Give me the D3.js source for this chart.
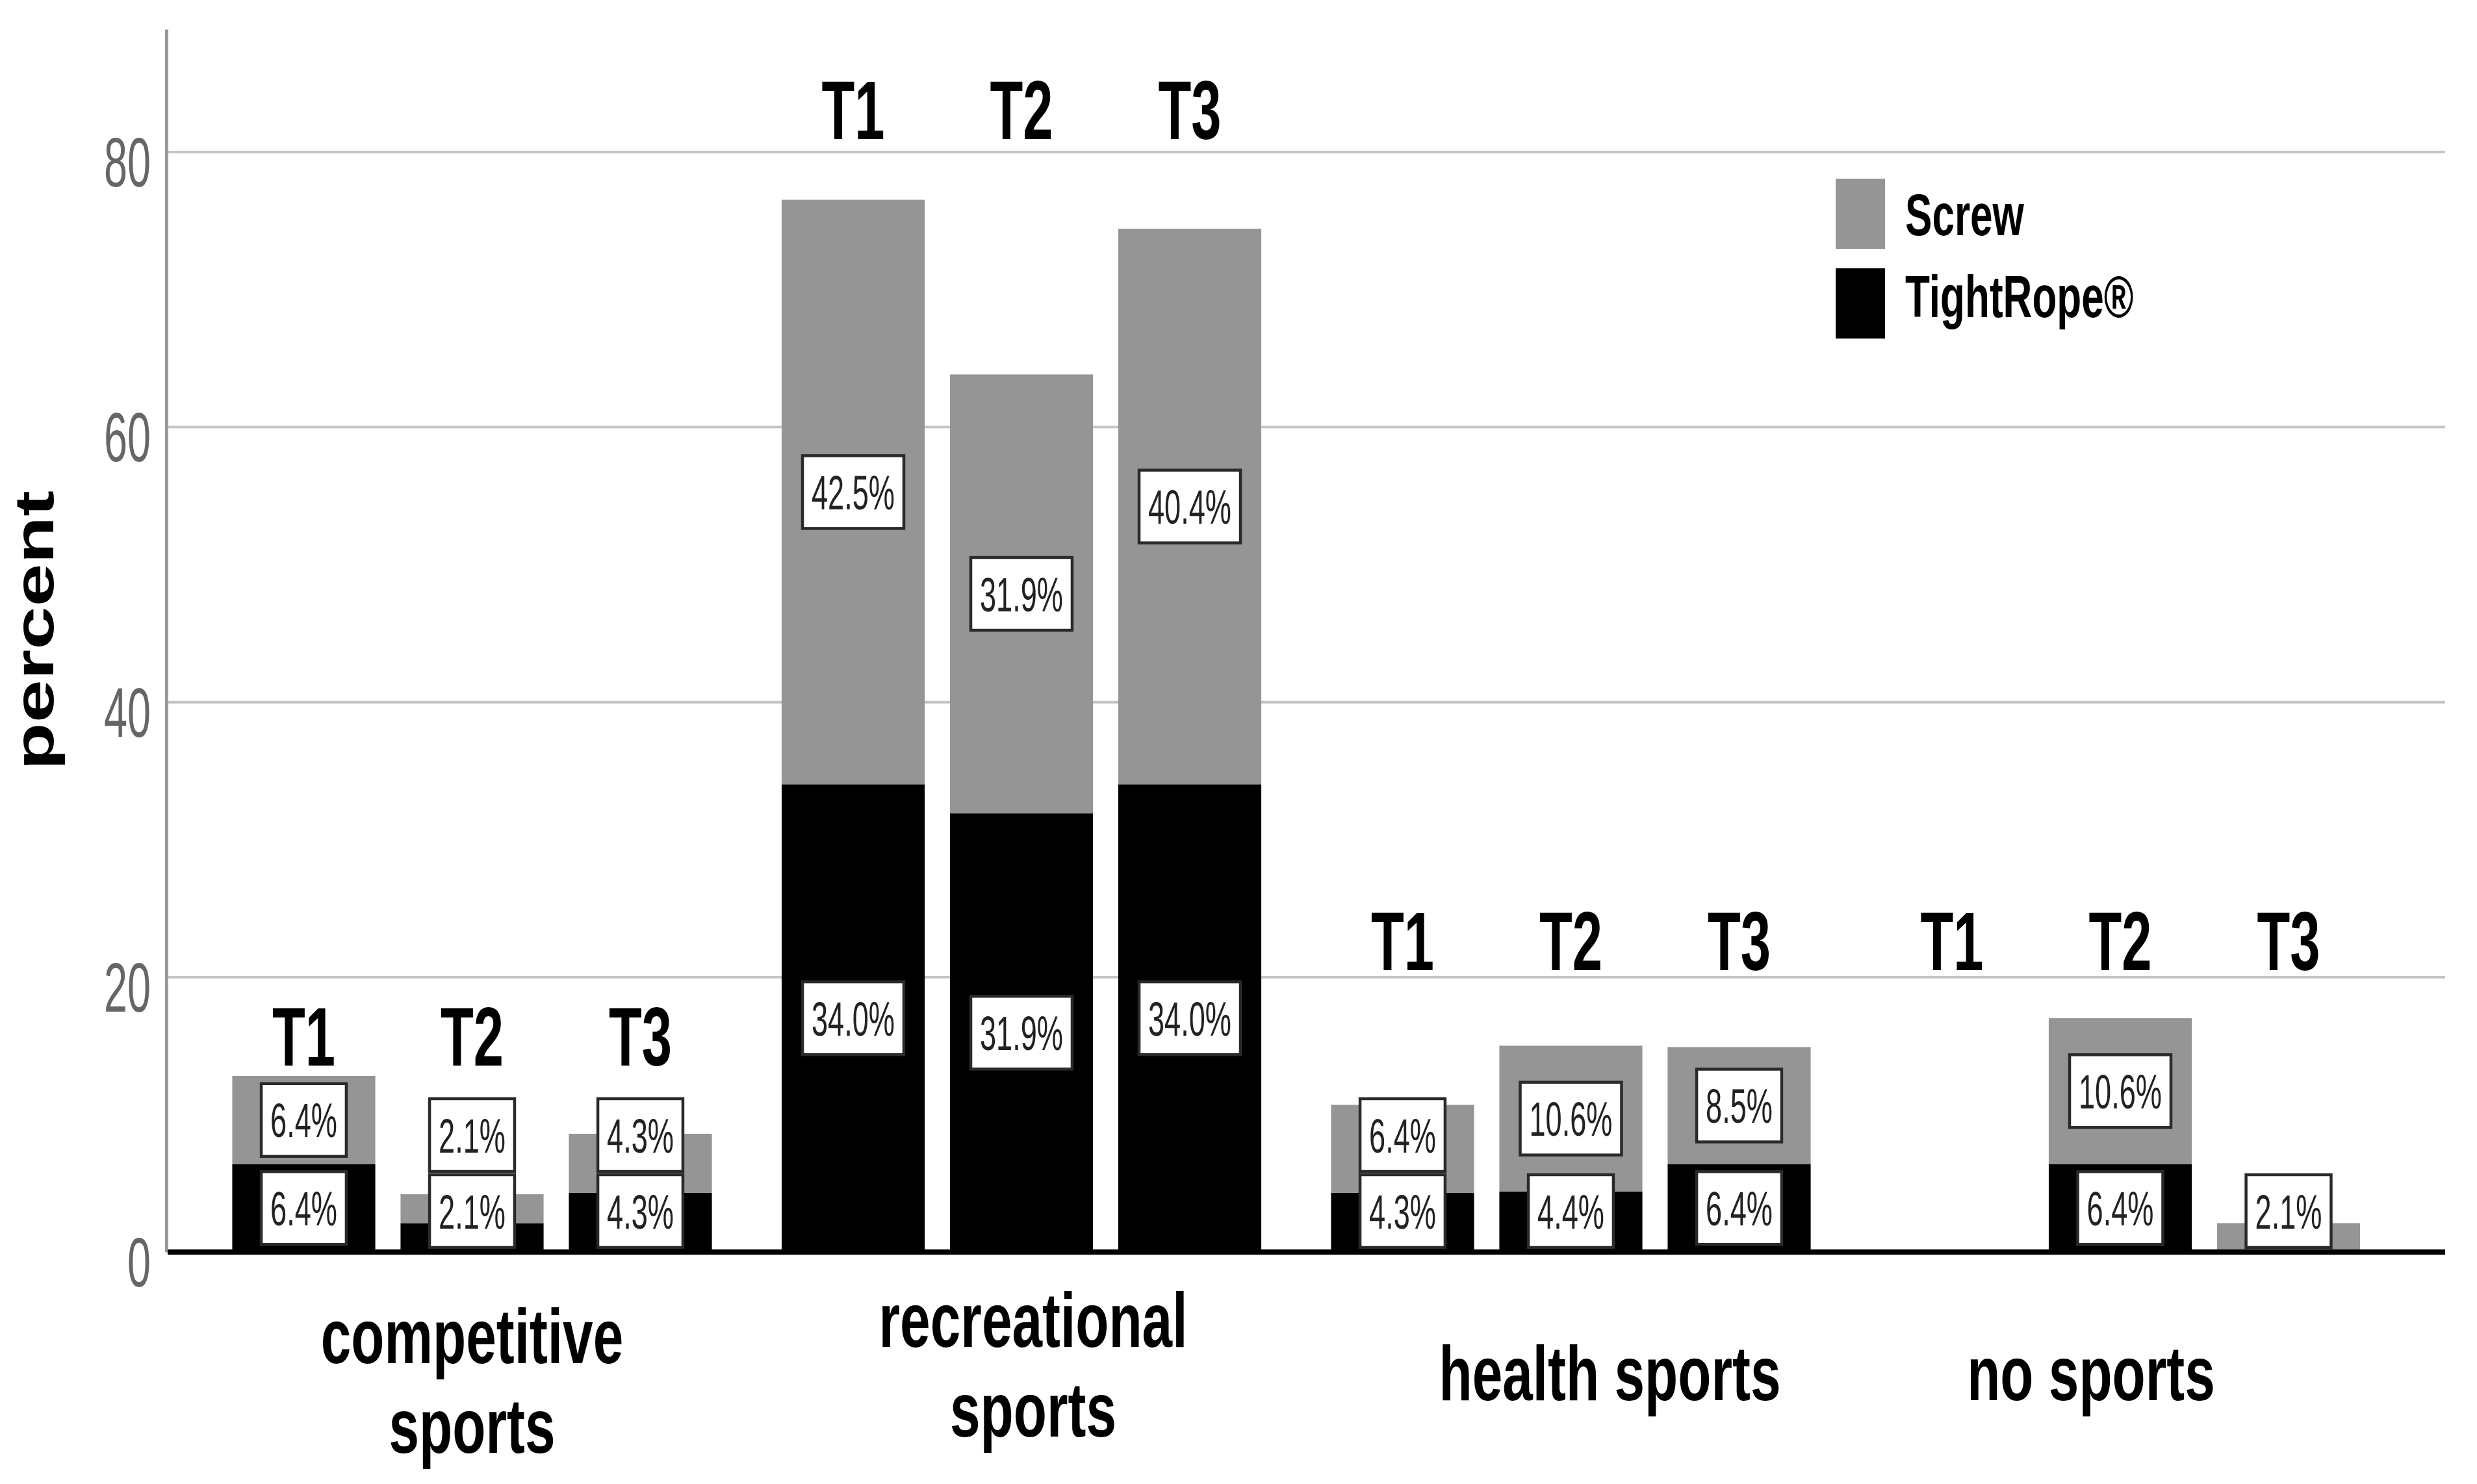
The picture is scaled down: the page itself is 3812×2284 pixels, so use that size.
<!DOCTYPE html>
<html>
<head>
<meta charset="utf-8">
<script src="https://cdn.jsdelivr.net/npm/d3@7"></script>
<style>
  body { margin: 0; background: #fff; }
  text { font-family: "Liberation Sans", Arial, sans-serif; }
</style>
</head>
<body>
<div class="chart"></div>
<script>
// data (percent of patients)
const categories = ["competitive sports", "recreational sports", "health sports", "no sports"];
const categoryLines = [["competitive", "sports"], ["recreational", "sports"], ["health sports"], ["no sports"]];
const times = ["T1", "T2", "T3"];
const seriesNames = ["Screw", "TightRope®"];
// rows = category, columns = T1..T3
const tightRope = [[6.4, 2.1, 4.3], [34.0, 31.9, 34.0], [4.3, 4.4, 6.4], [0, 6.4, 0]];
const screw = [[6.4, 2.1, 4.3], [42.5, 31.9, 40.4], [6.4, 10.6, 8.5], [0, 10.6, 2.1]];
const yTicks = [0, 20, 40, 60, 80];

function main() {
    const width = 3812, height = 2284;
    const left = 256, right = 3763, top = 45, base = 1927;
    const gray = "#959595";

    const svg = d3.select(".chart")
        .append("svg")
        .attr("width", width)
        .attr("height", height);

    // flat rows for the stack
    const rows = [];
    categories.forEach((c, i) => {
        times.forEach((t, j) => {
            rows.push({cat: c, time: t, ci: i, tightRope: tightRope[i][j], screw: screw[i][j]});
        });
    });
    const stacked = d3.stack().keys(["tightRope", "screw"])(rows);

    //scales
    const y = d3.scaleLinear().domain([0, 88.9]).range([base, top]);
    const x0 = d3.scaleBand().domain(categories).range([303.75, 3685.75]);
    const x1 = d3.scaleBand().domain(times).range([-388.5, 388.5])
        .paddingInner(0.15).paddingOuter(0.075);
    const barX = d => x0(d.cat) + x0.bandwidth() / 2 + x1(d.time);
    const barMid = d => barX(d) + x1.bandwidth() / 2;

    // text squeezed horizontally like the original figure
    function squeezed(parent, x, yy, str, k, extra) {
        const g = parent.append("g")
            .attr("transform", `translate(${x},${yy}) scale(${k},1)` + (extra || ""));
        return g.append("text").text(str);
    }

    //gridlines
    svg.append("g")
        .attr("transform", `translate(${left},0)`)
        .call(d3.axisLeft(y).tickValues(yTicks.filter(v => v > 0))
            .tickSize(-(right - left)).tickFormat(""))
        .call(g => g.select(".domain").remove())
        .call(g => g.selectAll(".tick line").attr("stroke", "#c4c4c4").attr("stroke-width", 4));

    //y axis
    const tk = 0.6;
    svg.append("g")
        .attr("class", "axis y-axis")
        .attr("transform", `translate(${left},0)`)
        .call(d3.axisLeft(y).tickValues(yTicks).tickSize(0).tickSizeOuter(0))
        .call(g => g.select(".domain").attr("stroke", "#9a9a9a").attr("stroke-width", 5))
        .call(g => g.selectAll(".tick text")
            .attr("x", -24 / tk)
            .attr("y", 14)
            .attr("dy", "0.36em")
            .attr("transform", `scale(${tk},1)`)
            .attr("font-size", 108)
            .attr("font-family", "Liberation Sans, Arial, sans-serif")
            .attr("fill", "#666"));

    //bars
    const colors = {tightRope: "#000", screw: gray};
    stacked.forEach(layer => {
        svg.append("g")
            .selectAll("rect")
            .data(layer.filter(d => d[1] - d[0] > 0))
            .enter()
            .append("rect")
            .attr("x", d => barX(d.data))
            .attr("width", x1.bandwidth())
            .attr("y", d => y(d[1]))
            .attr("height", d => y(d[0]) - y(d[1]))
            .attr("fill", colors[layer.key]);
    });

    //baseline
    svg.append("line")
        .attr("x1", left + 2).attr("x2", right)
        .attr("y1", base).attr("y2", base)
        .attr("stroke", "#000").attr("stroke-width", 8);

    //value labels in white boxes
    const vk = 0.61, vSize = 74, boxH = 112;
    const labels = svg.append("g");
    function valueLabel(cx, cy, value) {
        const g = labels.append("g");
        const rect = g.append("rect");
        const t = squeezed(g, cx, cy + 0.36 * vSize, value.toFixed(1) + "%", vk)
            .attr("text-anchor", "middle")
            .attr("font-size", vSize)
            .attr("fill", "#222");
        const w = t.node().getComputedTextLength() * vk + 28;
        rect.attr("x", cx - w / 2).attr("y", cy - boxH / 2)
            .attr("width", w).attr("height", boxH)
            .attr("fill", "#fff")
            .attr("stroke", "#2a2a2a").attr("stroke-width", 4.5);
    }
    rows.forEach(d => {
        const cx = barMid(d);
        const lowMax = base - 7 - boxH / 2;
        let lowerTop = null;
        if (d.tightRope > 0) {
            const cy = Math.min(y(d.tightRope / 2), lowMax);
            valueLabel(cx, cy, d.tightRope);
            lowerTop = cy - boxH / 2;
        }
        if (d.screw > 0) {
            let cy = y(d.tightRope + d.screw / 2);
            cy = Math.min(cy, lowMax);
            if (lowerTop !== null) cy = Math.min(cy, lowerTop - 5 - boxH / 2);
            valueLabel(cx, cy, d.screw);
        }
    });

    //T1/T2/T3 labels above each cluster
    const tLevel = [13.55, 80.9, 20.5, 20.5];
    rows.forEach(d => {
        squeezed(svg, barMid(d), y(tLevel[d.ci]), d.time, 0.65)
            .attr("text-anchor", "middle")
            .attr("font-size", 128)
            .attr("font-weight", "bold")
            .attr("fill", "#000");
    });

    //category labels under the axis
    const catBase = [171, 146, 228, 228];
    const catNudge = [0, 18, 60, -45];
    categories.forEach((c, i) => {
        const cx = x0(c) + x0.bandwidth() / 2 + catNudge[i];
        categoryLines[i].forEach((line, k) => {
            squeezed(svg, cx, base + catBase[i] + k * 138, line, 0.71)
                .attr("text-anchor", "middle")
                .attr("font-size", 118)
                .attr("font-weight", "bold")
                .attr("fill", "#000");
        });
    });

    //y axis title
    squeezed(svg, 82, 970, "percent", 0.71, " rotate(-90)")
        .attr("text-anchor", "middle")
        .attr("font-size", 119)
        .attr("font-weight", "bold")
        .attr("fill", "#000");

    //legend
    const legend = svg.append("g");
    const legendColors = [gray, "#000"];
    seriesNames.forEach((s, i) => {
        legend.append("rect")
            .attr("x", 2825).attr("y", 275 + i * 138)
            .attr("width", 76).attr("height", 108)
            .attr("fill", legendColors[i]);
        squeezed(legend, 2932, 362 + i * 126, s, 0.69)
            .attr("font-size", 90)
            .attr("font-weight", "bold")
            .attr("fill", "#000");
    });
}

main();
</script>
</body>
</html>
